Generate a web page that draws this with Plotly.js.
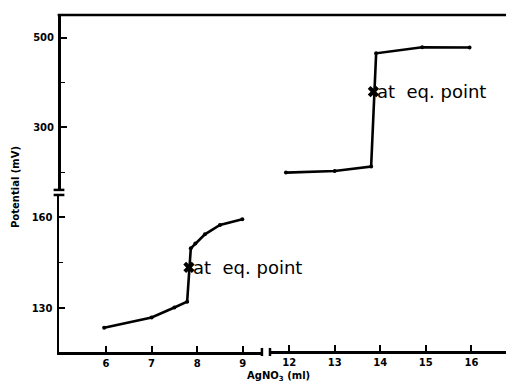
<!DOCTYPE html>
<html>
<head>
<meta charset="utf-8">
<script src="https://cdn.plot.ly/plotly-3.0.1.min.js"></script>
<style>html,body{margin:0;padding:0;background:#fff;}#chart{width:506px;height:386px;}</style>
</head>
<body>
<div id="chart"></div>
<script>
// Lower-left branch (AgNO3 ml, potential mV)
const volLow = [5.96, 7.0, 7.5, 7.78, 7.86, 7.96, 8.17, 8.5, 8.99];
const potLow = [123.5, 126.9, 130.2, 132.1, 149.7, 151.3, 154.3, 157.4, 159.3];
// Upper-right branch
const volHigh = [11.93, 13.0, 13.8, 13.91, 14.92, 15.96];
const potHigh = [199.3, 203.0, 212.7, 465.2, 478.6, 478.0];
// Equivalence points
const eqLowX = [7.82], eqLowY = [143.4];
const eqHighX = [13.85], eqHighY = [379.7];
const eqLabel = 'at\u00a0 eq. point';
// Tick labels
const xTicksLow = [6, 7, 8, 9];
const xTicksHigh = [12, 13, 14, 15, 16];
const yTicksLow = [130, 160];
const yTicksHigh = [300, 500];

const lineStyle = {color: '#000', width: 2.6};
const dotStyle = {color: '#000', size: 4};
const xStyle = {color: '#000', size: 10, symbol: 'x', line: {width: 0}};

const traces = [
  {x: volLow, y: potLow, xaxis: 'x', yaxis: 'y', mode: 'lines+markers', line: lineStyle, marker: dotStyle, hoverinfo: 'skip'},
  {x: volHigh, y: potHigh, xaxis: 'x2', yaxis: 'y2', mode: 'lines+markers', line: lineStyle, marker: dotStyle, hoverinfo: 'skip'},
  {x: eqLowX, y: eqLowY, xaxis: 'x', yaxis: 'y', mode: 'markers', marker: xStyle, hoverinfo: 'skip'},
  {x: eqHighX, y: eqHighY, xaxis: 'x2', yaxis: 'y2', mode: 'markers', marker: xStyle, hoverinfo: 'skip'}
];

const tickFont = {family: 'DejaVu Sans', size: 10, color: '#000', weight: 'bold'};
const axBase = {
  showline: true, linecolor: '#000', linewidth: 2.5, mirror: false,
  ticks: 'inside', ticklen: 6, tickwidth: 2, tickcolor: '#000',
  showgrid: false, zeroline: false, tickfont: tickFont, fixedrange: true
};

const layout = {
  width: 506, height: 386,
  margin: {l: 59, r: 0, t: 15, b: 34},
  paper_bgcolor: '#fff', plot_bgcolor: '#fff',
  showlegend: false,
  xaxis: Object.assign({}, axBase, {domain: [0, 0.454], range: [4.97, 9.42], tickmode: 'array', tickvals: xTicksLow, anchor: 'y'}),
  xaxis2: Object.assign({}, axBase, {domain: [0.472, 1], range: [11.58, 16.76], tickmode: 'array', tickvals: xTicksHigh, anchor: 'free', position: 0}),
  yaxis: Object.assign({}, axBase, {domain: [0, 0.466], range: [115.5, 167.3], tickmode: 'array', tickvals: yTicksLow, anchor: 'x', ticklabelstandoff: 2,
    minor: {tickmode: 'array', tickvals: [145], ticks: 'inside', ticklen: 4, tickwidth: 1.5, tickcolor: '#000'}}),
  yaxis2: Object.assign({}, axBase, {domain: [0.481, 1], range: [160.8, 550.5], tickmode: 'array', tickvals: yTicksHigh, anchor: 'free', position: 0, ticklabelstandoff: 2,
    minor: {tickmode: 'array', tickvals: [200, 400], ticks: 'inside', ticklen: 4, tickwidth: 1.5, tickcolor: '#000'}}),
  shapes: [
    {type: 'line', xref: 'paper', yref: 'paper', x0: -0.003, x1: 1, y0: 1, y1: 1, line: {color: '#000', width: 2.5}},
    // y-axis break marks
    {type: 'line', xref: 'paper', yref: 'paper', x0: -0.012, x1: 0.012, y0: 0.481, y1: 0.481, line: {color: '#000', width: 2.5}},
    {type: 'line', xref: 'paper', yref: 'paper', x0: -0.012, x1: 0.012, y0: 0.466, y1: 0.466, line: {color: '#000', width: 2.5}},
    // x-axis break marks
    {type: 'line', xref: 'paper', yref: 'paper', x0: 0.454, x1: 0.454, y0: -0.012, y1: 0.012, line: {color: '#000', width: 2.5}},
    {type: 'line', xref: 'paper', yref: 'paper', x0: 0.472, x1: 0.472, y0: -0.012, y1: 0.012, line: {color: '#000', width: 2.5}}
  ],
  annotations: [
    {x: eqLowX[0], y: eqLowY[0], xref: 'x', yref: 'y', text: eqLabel, showarrow: false, xanchor: 'left', yanchor: 'middle', xshift: 2,
      font: {family: 'DejaVu Sans', size: 18, color: '#000'}},
    {x: eqHighX[0], y: eqHighY[0], xref: 'x2', yref: 'y2', text: eqLabel, showarrow: false, xanchor: 'left', yanchor: 'middle', xshift: 2,
      font: {family: 'DejaVu Sans', size: 18, color: '#000'}},
    {x: 0.49, y: -0.072, xref: 'paper', yref: 'paper', text: 'AgNO<sub>3</sub> (ml)', showarrow: false, xanchor: 'center', yanchor: 'middle',
      font: {family: 'DejaVu Sans', size: 10, color: '#000', weight: 'bold'}},
    {x: -0.096, y: 0.49, xref: 'paper', yref: 'paper', text: 'Potential (mV)', showarrow: false, textangle: -90, xanchor: 'center', yanchor: 'middle',
      font: {family: 'DejaVu Sans', size: 10, color: '#000', weight: 'bold'}}
  ]
};

Plotly.newPlot('chart', traces, layout, {staticPlot: true, displayModeBar: false});
</script>
</body>
</html>
